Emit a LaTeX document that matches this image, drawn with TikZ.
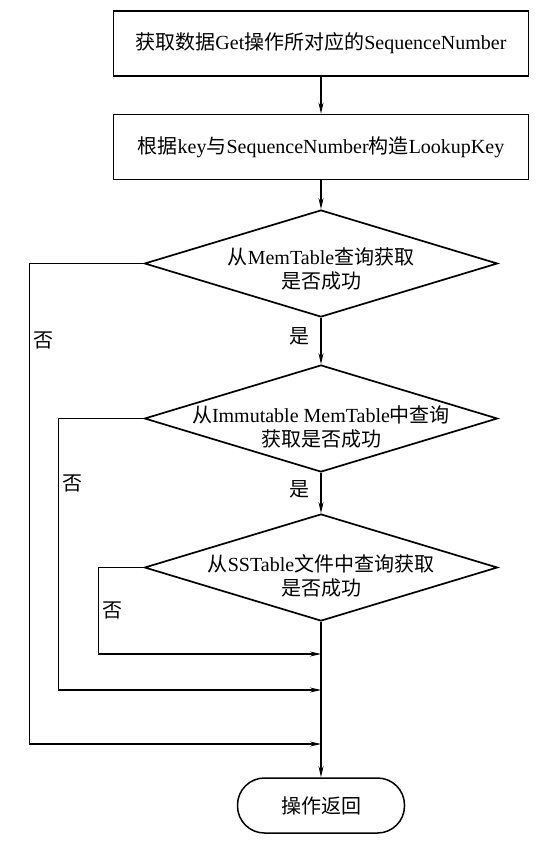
\documentclass[tikz,border=0pt]{standalone}
\usepackage{fontspec}
\setmainfont{Liberation Serif}
\newfontfamily\cjk{Noto Sans CJK SC}
\newcommand{\zh}[1]{{\cjk #1}}
\usetikzlibrary{arrows.meta,shapes.geometric}

\begin{document}
\begin{tikzpicture}[x=1pt,y=-1pt,
  font=\fontsize{20}{24}\selectfont,
  process/.style={draw,line width=1.7pt,minimum width=415pt,minimum height=65pt,inner sep=0pt},
  decision/.style={draw,diamond,line width=1.7pt,minimum width=353pt,minimum height=107pt,inner sep=0pt},
  terminal/.style={draw,line width=1.5pt,rounded corners=27pt,minimum width=167pt,minimum height=55pt},
  flow/.style={line width=1.1pt,-{Stealth[length=11pt,width=5pt]}}]
  \useasboundingbox (0,0) rectangle (558,844);
  % boxes and decisions
  \node[process] (seq) at (321,43.5) {\zh{获取数据}Get\zh{操作所对应的}SequenceNumber};
  \node[process] (lookup) at (321,147) {\zh{根据}key\zh{与}SequenceNumber\zh{构造}LookupKey};
  \node[decision,label={[align=center,yshift=-5pt]center:\zh{从}MemTable\zh{查询获取}\\\zh{是否成功}}] (mem) at (321,263.5) {};
  \node[decision,label={[align=center,yshift=-8pt]center:\zh{从}Immutable MemTable\zh{中查询}\\\zh{获取是否成功}}] (imm) at (321,418.5) {};
  \node[decision,label={[align=center,yshift=-8pt]center:\zh{从}SSTable\zh{文件中查询获取}\\\zh{是否成功}}] (sst) at (321,567.5) {};
  \node[terminal] (ret) at (321,805.5) {\zh{操作返回}};
  % join points on the main line
  \coordinate (jsst) at (321,654);
  \coordinate (jimm) at (321,690);
  \coordinate (jmem) at (321,744);
  % main line
  \draw[flow] (seq) -- (lookup);
  \draw[flow] (lookup) -- (mem);
  \draw[flow] (mem) -- node[pos=0.4,left=8pt]{\zh{是}} (imm);
  \draw[flow] (imm) -- node[pos=0.4,left=8pt]{\zh{是}} (sst);
  \draw[flow] (sst) -- (ret);
  % failure branches
  \draw[flow] (mem.west) -- ++(-114,0) |- node[pos=0.08,right]{\zh{否}} (jmem);
  \draw[flow] (imm.west) -- ++(-85,0) |- node[pos=0.12,right]{\zh{否}} (jimm);
  \draw[flow] (sst.west) -- ++(-45,0) |- node[pos=0.25,right]{\zh{否}} (jsst);
\end{tikzpicture}
\end{document}
